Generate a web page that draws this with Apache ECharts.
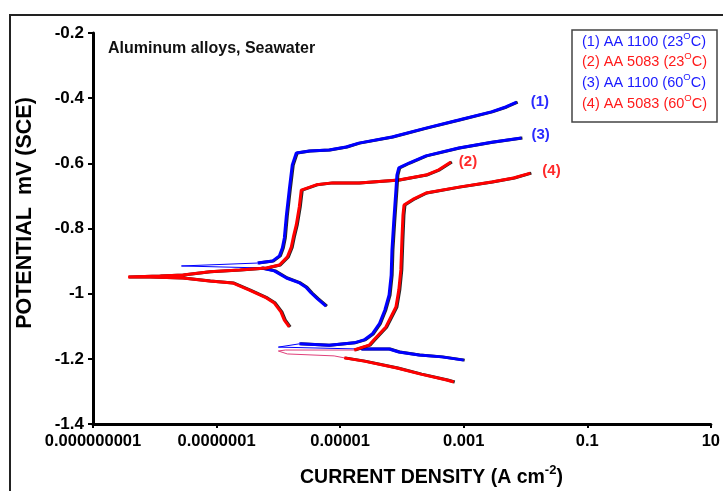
<!DOCTYPE html>
<html>
<head>
<meta charset="utf-8">
<script src="https://cdn.jsdelivr.net/npm/echarts@6/dist/echarts.min.js"></script>
<style>
  html, body { margin: 0; padding: 0; background: #fff; }
  #chart { width: 723px; height: 491px; }
</style>
</head>
<body>
<div id="chart"></div>
<script>
// tick labels (x axis is log10 of current density)
const xTickLabels = { '-9': '0.000000001', '-7': '0.0000001', '-5': '0.00001', '-3': '0.001', '-1': '0.1', '1': '10' };
const yTickLabels = { '-0.2': '-0.2', '-0.4': '-0.4', '-0.6': '-0.6', '-0.8': '-0.8', '-1': '-1', '-1.2': '-1.2', '-1.4': '-1.4' };

// [current density A/cm2, potential V]
// (1) AA 1100, 23C
const aa1100_23_cathodic = [[5.9e-6, -1.038], [4.3e-6, -1.016], [3.4e-6, -0.998], [2.8e-6, -0.980], [2.2e-6, -0.967], [1.35e-6, -0.952], [8.6e-7, -0.930], [5.3e-7, -0.921]];
const aa1100_23_tip = [[5.3e-7, -0.921], [2.7e-8, -0.915], [4.6e-7, -0.906]];
const aa1100_23_anodic = [[4.6e-7, -0.906], [8.0e-7, -0.900], [1.04e-6, -0.884], [1.16e-6, -0.860], [1.25e-6, -0.829], [1.35e-6, -0.759], [1.50e-6, -0.682], [1.68e-6, -0.605], [1.95e-6, -0.568], [3.16e-6, -0.562], [6.6e-6, -0.559], [1.25e-5, -0.550], [2.0e-5, -0.538], [6.9e-5, -0.519], [2.44e-4, -0.492], [8.3e-4, -0.467], [2.8e-3, -0.442], [4.8e-3, -0.427], [7.2e-3, -0.412]];

// (2) AA 5083, 23C
const aa5083_23 = [[1.50e-6, -1.102], [1.25e-6, -1.081], [1.10e-6, -1.056], [8.6e-7, -1.029], [6.4e-7, -1.013], [3.4e-7, -0.989], [1.81e-7, -0.967], [7.7e-8, -0.961], [2.83e-8, -0.952], [8.3e-9, -0.949], [3.7e-9, -0.949], [1.2e-8, -0.946], [2.83e-8, -0.943], [7.7e-8, -0.933], [2.35e-7, -0.927], [6.4e-7, -0.921], [1.04e-6, -0.912], [1.40e-6, -0.887], [1.62e-6, -0.857], [1.75e-6, -0.826], [1.95e-6, -0.789], [2.18e-6, -0.734], [2.35e-6, -0.682], [4.1e-6, -0.666], [7.4e-6, -0.660], [2.0e-5, -0.660], [8.9e-5, -0.651], [2.44e-4, -0.636], [3.95e-4, -0.620], [6.2e-4, -0.596]];

// (3) AA 1100, 60C
const aa1100_60_cathodic = [[1.0e-3, -1.204], [4.4e-4, -1.194], [1.88e-4, -1.188], [8.9e-5, -1.179], [6.2e-5, -1.170], [2.18e-5, -1.170]];
const aa1100_60_tip = [[2.18e-5, -1.170], [1.0e-6, -1.164], [2.18e-6, -1.154]];
const aa1100_60_anodic = [[2.18e-6, -1.154], [6.6e-6, -1.158], [1.68e-5, -1.151], [2.44e-5, -1.142], [3.3e-5, -1.124], [4.3e-5, -1.093], [5.3e-5, -1.050], [6.2e-5, -1.004], [6.7e-5, -0.943], [6.9e-5, -0.866], [7.4e-5, -0.774], [8.0e-5, -0.682], [8.3e-5, -0.636], [8.9e-5, -0.614], [1.30e-4, -0.599], [2.44e-4, -0.577], [8.3e-4, -0.553], [2.83e-3, -0.535], [8.6e-3, -0.522]];

// (4) AA 5083, 60C
const aa5083_60_cathodic = [[6.9e-4, -1.271], [5.3e-4, -1.265], [2.02e-4, -1.247], [8.3e-5, -1.228], [2.44e-5, -1.207], [1.16e-5, -1.197]];
const aa5083_60_tip = [[1.16e-5, -1.197], [8.0e-6, -1.191], [1.40e-6, -1.185], [1.0e-6, -1.176], [1.3e-6, -1.173], [1.68e-5, -1.173]];
const aa5083_60_anodic = [[1.68e-5, -1.173], [2.94e-5, -1.158], [3.5e-5, -1.142], [5.5e-5, -1.102], [8.0e-5, -1.041], [8.9e-5, -0.989], [9.6e-5, -0.927], [1.0e-4, -0.835], [1.04e-4, -0.759], [1.08e-4, -0.728], [1.56e-4, -0.709], [2.44e-4, -0.691], [8.3e-4, -0.673], [2.83e-3, -0.657], [6.4e-3, -0.645], [1.2e-2, -0.630]];

const legendLines = [
    { label: '(1) AA 1100 (23', color: '#1a1aff' },
    { label: '(2) AA 5083 (23', color: '#ff1a1a' },
    { label: '(3) AA 1100 (60', color: '#1a1aff' },
    { label: '(4) AA 5083 (60', color: '#ff1a1a' }
];

const BLUE = '#0000ff';
const RED = '#ff0000';
const FONT = '"Liberation Sans", Arial, sans-serif';

const toLog = arr => arr.map(p => [Math.log10(p[0]), p[1]]);

function curve(data, color, width, endLabel) {
    const s = {
        type: 'line',
        data: toLog(data),
        symbol: 'none',
        silent: true,
        lineStyle: { color: color, width: width },
        z: width > 1 ? 3 : 2
    };
    if (width > 1) {
        s.lineStyle.shadowColor = 'rgba(0,0,0,0.85)';
        s.lineStyle.shadowOffsetX = 1;
        s.lineStyle.shadowBlur = 0;
    }
    if (endLabel) {
        s.endLabel = Object.assign({
            show: true,
            fontFamily: FONT,
            fontWeight: 'bold',
            fontSize: 15,
            color: color === BLUE ? '#2a2aff' : '#ff2a2a'
        }, endLabel);
    }
    return s;
}

const chart = echarts.init(document.getElementById('chart'), null, { renderer: 'canvas' });

const legendTexts = legendLines.map((l, i) => ({
    type: 'text',
    left: 582,
    top: 31 + i * 20.7,
    style: {
        text: '{a|' + l.label + '}{s|O}{a|C)}',
        rich: {
            a: { fontFamily: FONT, fontSize: 14.5, fill: l.color, color: l.color, lineHeight: 18, verticalAlign: 'bottom' },
            s: { fontFamily: FONT, fontSize: 9.5, fill: l.color, color: l.color, lineHeight: 14, verticalAlign: 'top', padding: [0, 0, 4, 0] }
        }
    }
}));

chart.setOption({
    animation: false,
    backgroundColor: '#fff',
    grid: { left: 93, right: 10, top: 33, bottom: 67, containLabel: false },
    xAxis: {
        type: 'value',
        min: -9, max: 1, interval: 2,
        axisLine: { show: true, onZero: false, lineStyle: { color: '#000', width: 3 } },
        axisTick: { show: true, length: 4, lineStyle: { color: '#000', width: 2 } },
        splitLine: { show: false },
        axisLabel: {
            margin: 9,
            fontFamily: FONT, fontWeight: 'bold', fontSize: 16.5, color: '#000',
            formatter: v => xTickLabels[String(v)] || ''
        }
    },
    yAxis: {
        type: 'value',
        min: -1.4, max: -0.2, interval: 0.2,
        axisLine: { show: true, onZero: false, lineStyle: { color: '#000', width: 3 } },
        axisTick: { show: true, length: 5, lineStyle: { color: '#000', width: 2 } },
        splitLine: { show: false },
        axisLabel: {
            margin: 9,
            fontFamily: FONT, fontWeight: 'bold', fontSize: 17, color: '#000',
            formatter: v => yTickLabels[String(+v.toFixed(1))] || ''
        }
    },
    series: [
        curve(aa1100_23_cathodic, BLUE, 3),
        curve(aa1100_23_tip, BLUE, 1),
        curve(aa1100_23_anodic, BLUE, 3, { formatter: '(1)', offset: [6, 0] }),
        curve(aa5083_23, RED, 3, { formatter: '(2)', offset: [0, 0] }),
        curve(aa1100_60_cathodic, BLUE, 3),
        curve(aa1100_60_tip, BLUE, 1),
        curve(aa1100_60_anodic, BLUE, 3, { formatter: '(3)', offset: [2, -3] }),
        curve(aa5083_60_cathodic, RED, 3),
        curve(aa5083_60_tip, '#e0407a', 1),
        curve(aa5083_60_anodic, RED, 3, { formatter: '(4)', offset: [4, -2] })
    ],
    graphic: [
        // outer frame, only top and left edges fall inside the canvas
        { type: 'rect', shape: { x: 10, y: 15, width: 760, height: 520 }, style: { fill: 'none', stroke: '#222', lineWidth: 2 }, silent: true },
        {
            type: 'text', left: 108, top: 41,
            style: { text: 'Aluminum alloys, Seawater', fontFamily: FONT, fontWeight: 'bold', fontSize: 16, fill: '#111' }
        },
        {
            type: 'text', x: 25, y: 213, rotation: Math.PI / 2,
            style: { text: 'POTENTIAL  mV (SCE)', fontFamily: FONT, fontWeight: 'bold', fontSize: 21.5, fill: '#000', align: 'center', verticalAlign: 'middle' }
        },
        {
            type: 'text', left: 300, top: 464,
            style: {
                text: '{t|CURRENT DENSITY (A cm}{s|-2}{t|)}',
                rich: {
                    t: { fontFamily: FONT, fontWeight: 'bold', fontSize: 19.5, color: '#000', fill: '#000', lineHeight: 24, verticalAlign: 'bottom' },
                    s: { fontFamily: FONT, fontWeight: 'bold', fontSize: 13, color: '#000', fill: '#000', lineHeight: 24, verticalAlign: 'top' }
                }
            }
        },
        // legend box
        { type: 'rect', shape: { x: 572, y: 30, width: 145, height: 92 }, style: { fill: '#fff', stroke: '#444', lineWidth: 1.5 }, silent: true, z: 10 }
    ].concat(legendTexts.map(t => Object.assign(t, { z: 11 })))
});
</script>
</body>
</html>
